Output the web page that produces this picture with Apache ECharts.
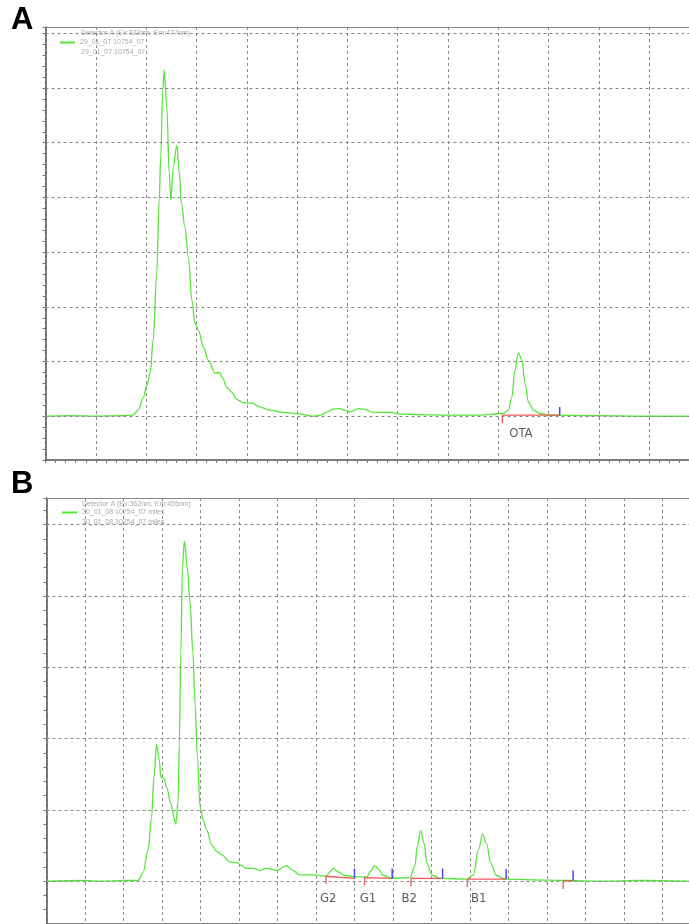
<!DOCTYPE html>
<html>
<head>
<meta charset="utf-8">
<script src="https://cdn.jsdelivr.net/npm/echarts@6/dist/echarts.min.js"></script>
<style>
  html, body { margin: 0; padding: 0; background: #fff; }
  #chart { width: 689px; height: 924px; }
</style>
</head>
<body>
<div id="chart"></div>
<script>
// ---- panel A : OTA chromatogram (x = minutes-ish grid units, y = signal grid units)
var nameA = '29_01_07 10754_07'
var timeA = [0, 0.5, 1.0, 1.5, 1.74, 1.85, 1.94, 2.02, 2.08, 2.14, 2.21, 2.26, 2.29, 2.33, 2.36, 2.41, 2.46, 2.49,
  2.54, 2.61, 2.66, 2.70, 2.77, 2.84, 2.91, 2.97, 3.04, 3.14, 3.24, 3.37, 3.46, 3.52, 3.60, 3.70, 3.80, 3.93,
  4.00, 4.10, 4.26, 4.46, 4.73, 5.06, 5.32, 5.46, 5.60, 5.72, 5.85, 5.95, 6.05, 6.22, 6.32, 6.52, 6.86, 7.05,
  7.38, 8.04, 8.60, 9.10, 9.20, 9.27, 9.33, 9.40, 9.47, 9.53, 9.60, 9.70, 9.83, 10.03, 11.0, 11.82, 12.79]
var signalA = [0, 0.01, 0, 0.01, 0.02, 0.12, 0.33, 0.58, 0.79, 1.39, 2.61, 3.95, 4.74, 5.96, 6.33, 5.65, 4.44, 3.95,
  4.55, 4.95, 4.44, 3.89, 3.46, 2.91, 2.12, 1.70, 1.57, 1.26, 1.02, 0.79, 0.80, 0.70, 0.53, 0.44, 0.31, 0.25,
  0.24, 0.24, 0.17, 0.11, 0.07, 0.04, 0.00, 0.02, 0.08, 0.13, 0.14, 0.11, 0.08, 0.14, 0.13, 0.07, 0.07, 0.04,
  0.03, 0.02, 0.02, 0.05, 0.11, 0.35, 0.84, 1.16, 1.02, 0.60, 0.26, 0.11, 0.05, 0.02, 0.01, 0.0, 0.0]
var gridRowsA = [0, 1, 2, 3, 4, 5, 6, 7]
var peakNameA = ['OTA']
var peakStartA = [9.08]
var peakEndA = [10.22]
var peakBaseStartA = [0.02]
var peakBaseEndA = [0.02]
var peakLabelXA = [9.45]

// ---- panel B : aflatoxins
var nameB = '30_01_08 10754_07 miles'
var timeB = [0, 1.0, 1.39, 2.0, 2.38, 2.51, 2.64, 2.73, 2.79, 2.86, 2.93, 2.97, 3.05, 3.12, 3.23, 3.31, 3.36, 3.42,
  3.45, 3.49, 3.53, 3.58, 3.66, 3.73, 3.80, 3.86, 3.92, 3.99, 4.07, 4.16, 4.29, 4.42, 4.55, 4.77, 4.94, 5.07,
  5.20, 5.37, 5.55, 5.70, 5.98, 6.24, 6.37, 6.58, 6.93, 7.28, 7.36, 7.45, 7.58, 7.75, 8.01, 8.32, 8.42, 8.53,
  8.62, 8.75, 8.97, 9.44, 9.57, 9.63, 9.72, 9.81, 9.88, 10.01, 10.22, 10.92, 11.09, 11.22, 11.33, 11.43, 11.54,
  11.69, 11.91, 12.64, 13.51, 14.38, 15.5, 16.69]
var signalB = [0, 0.01, 0, 0.01, 0.01, 0.12, 0.44, 0.90, 1.46, 1.92, 1.69, 1.46, 1.44, 1.32, 1.09, 0.90, 0.80, 1.13,
  1.92, 3.22, 4.38, 4.77, 4.38, 3.91, 3.22, 2.48, 1.74, 1.04, 0.86, 0.72, 0.51, 0.42, 0.37, 0.27, 0.26, 0.22,
  0.18, 0.18, 0.15, 0.18, 0.15, 0.22, 0.16, 0.09, 0.09, 0.07, 0.13, 0.18, 0.13, 0.08, 0.06, 0.06, 0.14, 0.22,
  0.17, 0.08, 0.04, 0.05, 0.21, 0.49, 0.71, 0.53, 0.25, 0.09, 0.04, 0.03, 0.09, 0.44, 0.66, 0.53, 0.25,
  0.08, 0.03, 0.02, 0.01, 0, 0.01, 0]
var gridRowsB = [0, 1, 2, 3, 4, 5]
var peakNameB = ['G2', 'G1', 'B2', 'B1', '']
var peakStartB = [7.26, 8.26, 9.47, 10.93, 13.42]
var peakEndB = [8.0, 8.98, 10.29, 11.94, 13.68]
var peakBaseStartB = [0.07, 0.05, 0.04, 0.03, 0.0]
var peakBaseEndB = [0.04, 0.04, 0.04, 0.03, 0.01]
var peakLabelXB = [7.32, 8.35, 9.42, 11.23, 0]

var GREEN = '#55e63a'
var GRIDLINE = { color: '#8a8a8a', width: 1, type: [3, 3] }
var LABEL_FONT = '"Liberation Sans Narrow", "DejaVu Sans Condensed", sans-serif'

function zip(xs, ys) {
    return xs.map(function (x, i) { return [x, ys[i]] })
}

function axesFor(gi, xMax, yMin, yMax) {
    var x = [{
        gridIndex: gi, type: 'value', min: 0, max: xMax, interval: 0.2, position: 'bottom',
        axisLine: { onZero: false, lineStyle: { color: '#555', width: 1.5 } },
        axisTick: { length: 3, lineStyle: { color: '#777' } },
        axisLabel: { show: false }, splitLine: { show: false }
    }, {
        gridIndex: gi, type: 'value', min: 0, max: xMax, interval: 1, position: 'top',
        axisLine: { onZero: false, lineStyle: { color: '#888', width: 1 } },
        axisTick: { show: false }, axisLabel: { show: false },
        splitLine: { show: true, lineStyle: GRIDLINE }
    }]
    var y = {
        gridIndex: gi, type: 'value', min: yMin, max: yMax, interval: 0.2,
        axisLine: { onZero: false, lineStyle: { color: '#555', width: 1.5 } },
        axisTick: { length: 3, lineStyle: { color: '#777' } },
        axisLabel: { show: false }, splitLine: { show: false }
    }
    return { x: x, y: y }
}

// gridlines, integration marks and peak labels for one panel
function panelSeries(p) {
    var out = []
    out.push({
        type: 'line', xAxisIndex: p.xi, yAxisIndex: p.yi, data: [[0, 0]], symbol: 'none',
        lineStyle: { width: 0 }, z: 1, silent: true,
        markLine: {
            silent: true, symbol: ['none', 'none'], label: { show: false },
            lineStyle: GRIDLINE, animation: false,
            data: p.rows.map(function (v) { return { yAxis: v } })
        }
    })
    out.push({
        name: p.name, type: 'line', xAxisIndex: p.xi, yAxisIndex: p.yi,
        data: zip(p.time, p.signal), symbol: 'none', color: GREEN,
        smooth: 0.35, smoothMonotone: 'x',
        lineStyle: { color: GREEN, width: 1.3 }, z: 3
    })
    p.start.forEach(function (s, i) {
        out.push({
            type: 'line', xAxisIndex: p.xi, yAxisIndex: p.yi, symbol: 'none', z: 4,
            lineStyle: { color: '#ee5a5a', width: 1.3 },
            data: [[s, p.baseStart[i] - p.redTick], [s, p.baseStart[i]], [p.end[i], p.baseEnd[i]]]
        })
        out.push({
            type: 'line', xAxisIndex: p.xi, yAxisIndex: p.yi, symbol: 'none', z: 4,
            lineStyle: { color: '#4a4af0', width: 1.5 },
            data: [[p.end[i], p.baseEnd[i]], [p.end[i], p.baseEnd[i] + p.blueTick]]
        })
    })
    out.push({
        type: 'scatter', xAxisIndex: p.xi, yAxisIndex: p.yi, symbolSize: 1, z: 5,
        itemStyle: { color: 'rgba(0,0,0,0)' },
        label: { show: true, position: 'inside', formatter: '{b}', color: '#333', fontSize: 13, fontFamily: LABEL_FONT },
        data: p.names.map(function (n, i) { return { name: n, value: [p.labelX[i], p.labelY] } })
            .filter(function (d) { return d.name !== '' })
    })
    return out
}

var axA = axesFor(0, 12.79, -0.8, 7.116)
var axB = axesFor(1, 16.69, -0.6, 5.375)

var series = panelSeries({
    xi: 0, yi: 0, name: nameA, time: timeA, signal: signalA, rows: gridRowsA,
    names: peakNameA, start: peakStartA, end: peakEndA, baseStart: peakBaseStartA, baseEnd: peakBaseEndA,
    labelX: peakLabelXA, labelY: -0.31, redTick: 0.15, blueTick: 0.15
}).concat(panelSeries({
    xi: 2, yi: 1, name: nameB, time: timeB, signal: signalB, rows: gridRowsB,
    names: peakNameB, start: peakStartB, end: peakEndB, baseStart: peakBaseStartB, baseEnd: peakBaseEndB,
    labelX: peakLabelXB, labelY: -0.24, redTick: 0.11, blueTick: 0.14
}))

var legendText = { fontSize: 7, color: '#aaa', fontFamily: 'Liberation Sans, Arial, sans-serif' }
var smallText = function (txt, left, top) {
    return { type: 'text', left: left, top: top, silent: true,
        style: { text: txt, fontSize: 7, fill: '#aaa', fontFamily: 'Liberation Sans, Arial, sans-serif' } }
}
var bigText = function (txt, left, top) {
    return { type: 'text', left: left, top: top, silent: true,
        style: { text: txt, fontSize: 31, fontWeight: 'bold', fill: '#000', fontFamily: 'Liberation Sans, Arial, sans-serif' } }
}

var chart = echarts.init(document.getElementById('chart'))
chart.setOption({
    animation: false,
    backgroundColor: '#fff',
    grid: [
        { left: 45.5, top: 27, width: 643.5, height: 433 },
        { left: 46.5, top: 498, width: 642.5, height: 430.2 }
    ],
    xAxis: axA.x.concat(axB.x),
    yAxis: [axA.y, axB.y],
    legend: [
        { data: [nameA], left: 60, top: 39, padding: 0, icon: 'rect', itemWidth: 15, itemHeight: 2,
          selectedMode: false, textStyle: legendText },
        { data: [nameB], left: 62, top: 509, padding: 0, icon: 'rect', itemWidth: 15, itemHeight: 2,
          selectedMode: false, textStyle: legendText }
    ],
    graphic: [
        bigText('A', 11, 5),
        bigText('B', 11, 469),
        smallText('Detector A (Ex:333nm, Em:477nm)', 81, 30),
        smallText('29_01_07 10754_07', 81, 49),
        smallText('Detector A (Ex:362nm, Em:455nm)', 82, 501),
        smallText('30_01_08 10754_07 miles', 82, 519)
    ],
    series: series
})
</script>
</body>
</html>
